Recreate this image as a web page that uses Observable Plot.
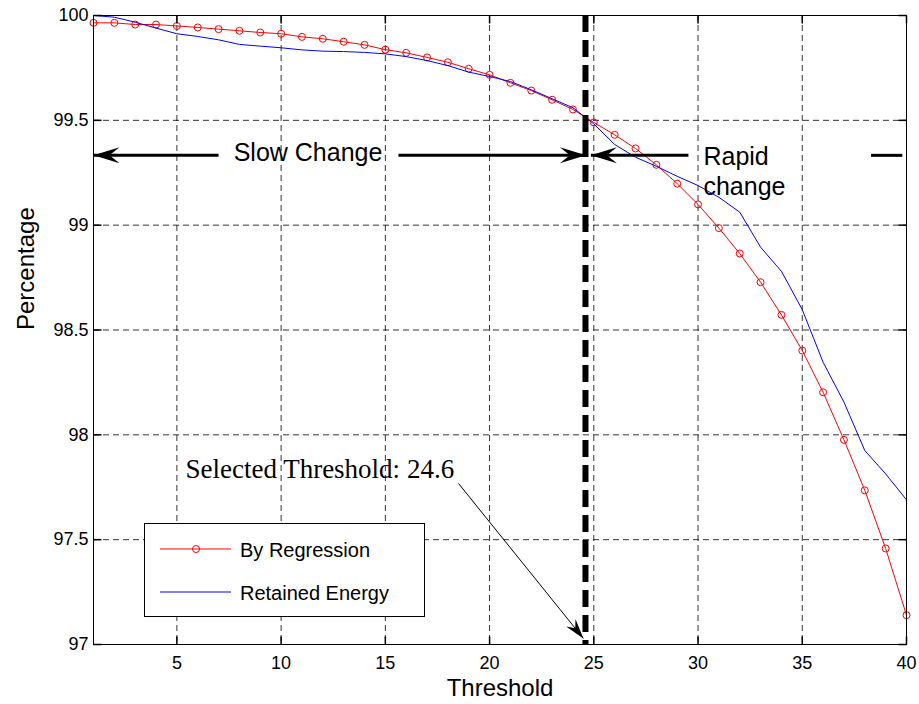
<!DOCTYPE html>
<html><head><meta charset="utf-8">
<script src="https://cdn.jsdelivr.net/npm/d3@7"></script>
<script src="https://cdn.jsdelivr.net/npm/@observablehq/plot@0.6"></script>
<style>
body{margin:0;background:#fff;}
#wrap{position:relative;width:919px;height:704px;overflow:hidden;}
#legend{position:absolute;left:144px;top:523px;width:281px;height:94px;border:1px solid #000;background:#fff;box-sizing:border-box;font-family:"Liberation Sans",Arial,sans-serif;font-size:20px;color:#000;}
#legend svg{position:absolute;left:0;top:0;}
#legend span{position:absolute;left:95px;line-height:20px;white-space:nowrap;}
</style></head><body><div id="wrap"></div>
<script>
// ---- data ----
const thresholds = [1,2,3,4,5,6,7,8,9,10,11,12,13,14,15,16,17,18,19,20,21,22,23,24,25,26,27,28,29,30,31,32,33,34,35,36,37,38,39,40];
const byRegression = [99.965,99.965,99.957,99.957,99.950,99.943,99.935,99.927,99.919,99.913,
  99.898,99.889,99.875,99.860,99.837,99.822,99.800,99.777,99.746,99.717,
  99.679,99.642,99.598,99.552,99.490,99.431,99.366,99.288,99.198,99.099,
  98.986,98.865,98.728,98.572,98.402,98.203,97.976,97.735,97.458,97.140];
const retainedEnergy = [100.000,99.992,99.968,99.940,99.913,99.900,99.884,99.862,99.854,99.846,
  99.836,99.830,99.828,99.824,99.817,99.804,99.785,99.761,99.730,99.709,
  99.685,99.646,99.603,99.560,99.483,99.385,99.324,99.281,99.233,99.189,
  99.133,99.062,98.895,98.780,98.597,98.346,98.156,97.925,97.814,97.690];
const xTicks = [5,10,15,20,25,30,35,40];
const yTicks = [97,97.5,98,98.5,99,99.5,100];
const seriesNames = ["By Regression","Retained Energy"];
const selectedThreshold = 24.6;
const arrowLevel = 99.333;
const arrowShafts = [{x1:1,x2:7.0},{x1:15.63,x2:24.62},{x1:24.86,x2:29.54},{x1:38.3,x2:39.8}];
const arrowTips = [{x:1,dir:180},{x:24.62,dir:0},{x:24.86,dir:180}];
const slowLabel = [{x:11.29,y:99.3037,text:"Slow Change"}];
const rapidLabel = [{x:30.26,y:99.285,text:"Rapid"},{x:30.26,y:99.146,text:"change"}];
const noteText = "Selected Threshold: " + selectedThreshold;
const notePos = {x:5.41,y:97.792};
const notePointer = {x1:18.51,y1:97.768,x2:24.5,y2:97.029};

// ---- layout ----
const W=919,H=704,mL=93,mR=13,mT=15,mB=60;
const xDom=[thresholds[0],thresholds[thresholds.length-1]], yDom=[97,100];
const kx=(W-mL-mR)/(xDom[1]-xDom[0]), ky=(H-mT-mB)/(yDom[1]-yDom[0]);
const pointerAngle = Math.atan2((notePointer.y1-notePointer.y2)*ky,(notePointer.x2-notePointer.x1)*kx)*180/Math.PI;

const table = thresholds.map((t,i)=>({t, reg:byRegression[i], energy:retainedEnergy[i]}));
const shafts = arrowShafts.map(d=>({...d, y:arrowLevel}));
const tips = arrowTips.map(d=>({...d, y:arrowLevel}));

const head = (L,Wd,N)=>({draw(ctx){ctx.moveTo(0,0);ctx.lineTo(-L,-Wd);ctx.lineTo(-N,0);ctx.lineTo(-L,Wd);ctx.closePath();}});
const tickSym = (dx,dy)=>({draw(ctx){ctx.moveTo(0,0);ctx.lineTo(dx,dy);}});
const bigHead = head(26,8,16), smallHead = head(20,6,13);
const gridStyle = {stroke:"#000", strokeOpacity:0.8, strokeDasharray:"6,4", strokeWidth:1};

const plot = Plot.plot({
  width:W, height:H, marginLeft:mL, marginRight:mR, marginTop:mT, marginBottom:mB,
  style:{fontFamily:'"Liberation Sans", Arial, sans-serif', fontSize:"18px", background:"#fff", color:"#000", overflow:"visible"},
  x:{domain:xDom, label:null},
  y:{domain:yDom, label:null},
  marks:[
    Plot.gridX(xTicks.filter(v=>v<xDom[1]), gridStyle),
    Plot.gridY(yTicks.filter(v=>v>yDom[0]&&v<yDom[1]), gridStyle),
    Plot.line(table,{x:"t", y:"reg", stroke:"#ff0000", strokeWidth:1}),
    Plot.dot(table,{x:"t", y:"reg", r:3.5, stroke:"#ff0000", fill:"none", strokeWidth:1}),
    Plot.line(table,{x:"t", y:"energy", stroke:"#0000ff", strokeWidth:1}),
    Plot.ruleX([selectedThreshold],{stroke:"#000", strokeWidth:6, strokeDasharray:"17,8"}),
    Plot.link(shafts,{x1:"x1", x2:"x2", y1:"y", y2:"y", stroke:"#000", strokeWidth:3}),
    Plot.dot(tips,{x:"x", y:"y", symbol:bigHead, rotate:"dir", fill:"#000", stroke:"none"}),
    Plot.link([notePointer],{x1:"x1", y1:"y1", x2:"x2", y2:"y2", stroke:"#000", strokeWidth:1}),
    Plot.dot([notePointer],{x:"x2", y:"y2", symbol:smallHead, rotate:pointerAngle, fill:"#000", stroke:"none"}),
    Plot.text(slowLabel,{x:"x", y:"y", text:"text", textAnchor:"middle", lineAnchor:"bottom", fontSize:25, fill:"#000"}),
    Plot.text(rapidLabel,{x:"x", y:"y", text:"text", textAnchor:"start", lineAnchor:"bottom", fontSize:25, fill:"#000"}),
    Plot.text([notePos],{x:"x", y:"y", text:()=>noteText, textAnchor:"start", lineAnchor:"bottom", fontSize:27, fontFamily:'"Liberation Serif", "Times New Roman", serif', fill:"#000"}),
    Plot.frame({stroke:"#000", strokeWidth:1}),
    Plot.dot(yTicks,{x:xDom[0], y:d=>d, symbol:tickSym(8,0), stroke:"#000", fill:"none"}),
    Plot.dot(yTicks,{x:xDom[1], y:d=>d, symbol:tickSym(-8,0), stroke:"#000", fill:"none"}),
    Plot.dot(xTicks,{x:d=>d, y:yDom[0], symbol:tickSym(0,-8), stroke:"#000", fill:"none"}),
    Plot.dot(xTicks,{x:d=>d, y:yDom[1], symbol:tickSym(0,8), stroke:"#000", fill:"none"}),
    Plot.axisX({ticks:xTicks, tickSize:0, tickPadding:12, fontSize:18, tickFormat:d=>String(d), label:null}),
    Plot.axisY({ticks:yTicks, tickSize:0, tickPadding:5, fontSize:18, tickFormat:d=>String(d), label:null}),
    Plot.text(["Percentage"],{frameAnchor:"left", text:d=>d, rotate:-90, dx:-67, fontSize:24, lineAnchor:"middle", fill:"#000"}),
    Plot.text(["Threshold"],{frameAnchor:"bottom", text:d=>d, dy:44, fontSize:24, lineAnchor:"middle", fill:"#000"})
  ]
});
const wrap = document.getElementById("wrap");
wrap.appendChild(plot);

// legend
const lg = document.createElement("div");
lg.id = "legend";
lg.innerHTML = `<svg width="281" height="94">
  <line x1="15" x2="86" y1="25" y2="25" stroke="#ff0000" stroke-width="1"/>
  <circle cx="51" cy="25" r="3.5" fill="none" stroke="#ff0000" stroke-width="1"/>
  <line x1="15" x2="86" y1="68" y2="68" stroke="#0000ff" stroke-width="1"/>
</svg><span style="top:16px">${seriesNames[0]}</span><span style="top:59px">${seriesNames[1]}</span>`;
wrap.appendChild(lg);
</script>
</body></html>
